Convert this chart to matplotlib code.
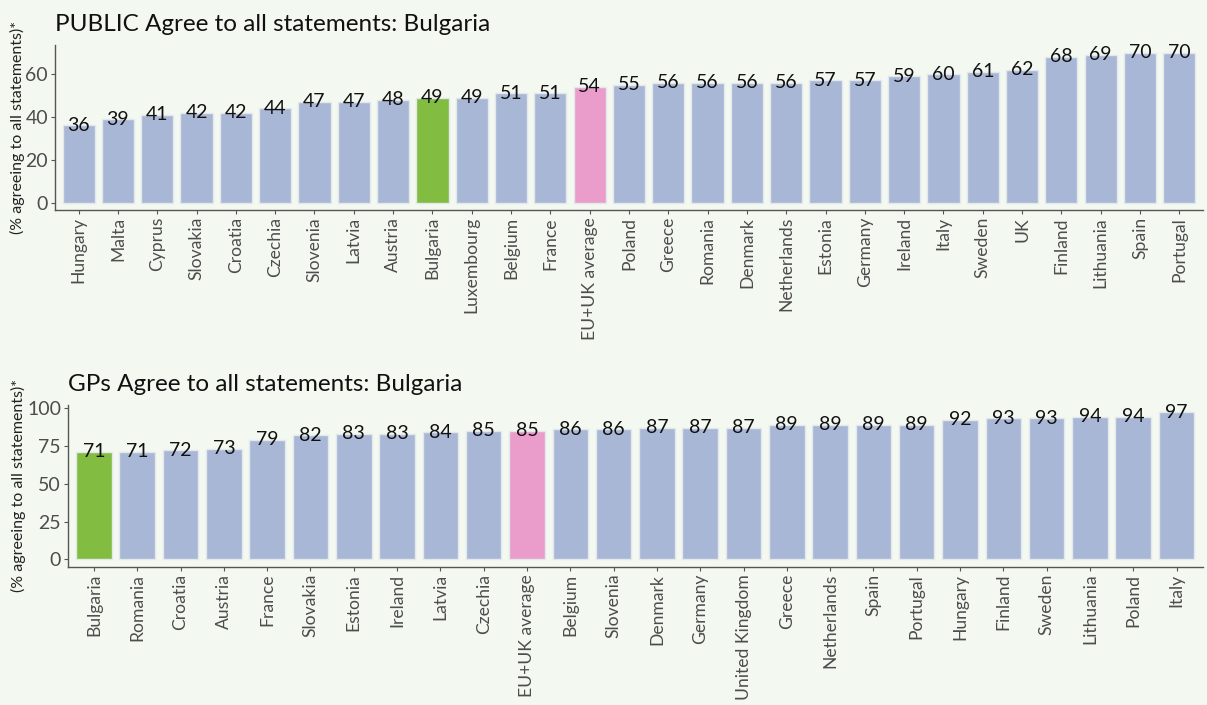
import numpy as np
import matplotlib
matplotlib.use("Agg")
from matplotlib import pyplot as plt

plt.rcParams['font.family'] = ['Lato', 'DejaVu Sans']

BG = '#f3f8f0'
BLUE = '#a9b7d6'
GREEN = '#82bc40'
PINK = '#ea9dcb'

# public survey
public_countries = ['Hungary', 'Malta', 'Cyprus', 'Slovakia', 'Croatia', 'Czechia', 'Slovenia',
                    'Latvia', 'Austria', 'Bulgaria', 'Luxembourg', 'Belgium', 'France',
                    'EU+UK average', 'Poland', 'Greece', 'Romania', 'Denmark', 'Netherlands',
                    'Estonia', 'Germany', 'Ireland', 'Italy', 'Sweden', 'UK', 'Finland',
                    'Lithuania', 'Spain', 'Portugal']
public_values = [36, 39, 41, 42, 42, 44, 47, 47, 48, 49, 49, 51, 51, 54, 55, 56, 56, 56, 56,
                 57, 57, 59, 60, 61, 62, 68, 69, 70, 70]

# GP survey
gp_countries = ['Bulgaria', 'Romania', 'Croatia', 'Austria', 'France', 'Slovakia', 'Estonia',
                'Ireland', 'Latvia', 'Czechia', 'EU+UK average', 'Belgium', 'Slovenia',
                'Denmark', 'Germany', 'United Kingdom', 'Greece', 'Netherlands', 'Spain',
                'Portugal', 'Hungary', 'Finland', 'Sweden', 'Lithuania', 'Poland', 'Italy']
gp_values = [71, 71, 72, 73, 79, 82, 83, 83, 84, 85, 85, 86, 86, 87, 87, 87, 89, 89, 89, 89,
             92, 93, 93, 94, 94, 97]


def bar_colour(name):
    if name == 'Bulgaria':
        return GREEN
    if name == 'EU+UK average':
        return PINK
    return BLUE


def draw_panel(ax, countries, values, title, yticks, ylab_x):
    x = np.arange(len(countries))
    ax.bar(x, values, width=0.82, color=[bar_colour(c) for c in countries],
           edgecolor='#e3e8ec', linewidth=1.0)
    for xi, v in zip(x, values):
        ax.text(xi, v, str(v), ha='center', va='center', fontsize=14, color='#111111')
    ax.set_facecolor(BG)
    top = max(values)
    ax.set_ylim(-0.05 * top, top * 1.05)
    ax.set_xlim(-0.6, len(countries) - 0.4)
    ax.set_yticks(yticks)
    ax.set_xticks(x)
    ax.set_xticklabels(countries, rotation=90, fontsize=12.6, color='#4d4d4d')
    ax.tick_params(axis='y', labelsize=14, labelcolor='#4d4d4d', length=3, color='#555555', pad=2)
    ax.tick_params(axis='x', length=3, color='#555555', pad=2)
    for s in ['top', 'right']:
        ax.spines[s].set_visible(False)
    for s in ['left', 'bottom']:
        ax.spines[s].set_color('#555555')
        ax.spines[s].set_linewidth(1.0)
    ax.set_ylabel('(% agreeing to all statements)*', fontsize=11.5, color='#222222')
    ax.yaxis.set_label_coords(ylab_x, 0.5)
    ax.set_title(title, loc='left', fontsize=17.5, color='#111111', pad=10)


fig = plt.figure(figsize=(12.07, 7.05), dpi=100)
fig.patch.set_facecolor(BG)

ax1 = fig.add_axes([0.0456, 0.702, 0.951, 0.234])
draw_panel(ax1, public_countries, public_values, 'PUBLIC Agree to all statements: Bulgaria',
           [0, 20, 40, 60], -0.026)

ax2 = fig.add_axes([0.0563, 0.196, 0.940, 0.2295])
draw_panel(ax2, gp_countries, gp_values, 'GPs Agree to all statements: Bulgaria',
           [0, 25, 50, 75, 100], -0.037)

fig.savefig('out.png', dpi=100, facecolor=BG)
